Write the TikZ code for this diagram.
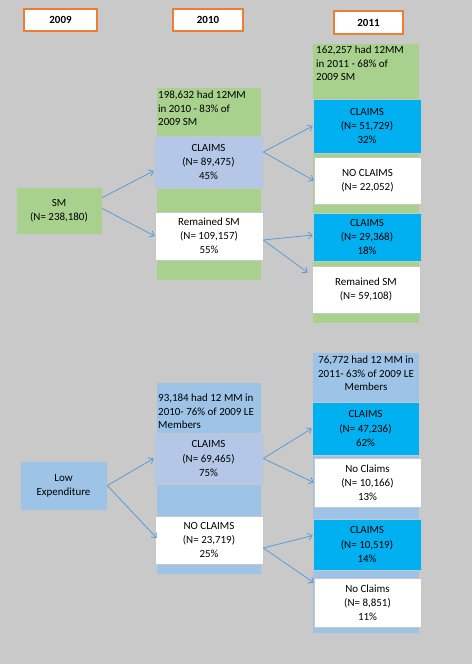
\documentclass[tikz,border=0pt]{standalone}
\usepackage{fontspec}
\setmainfont{Carlito}
\usepackage{xcolor}
\usetikzlibrary{arrows.meta}
\definecolor{bggray}{HTML}{C9C9C9}
\definecolor{smgreen}{HTML}{A9D18E}
\definecolor{leblue}{HTML}{9DC3E6}
\definecolor{claimblue}{HTML}{B4C7E7}
\definecolor{claimcyan}{HTML}{00B0F0}
\definecolor{hdrorange}{HTML}{ED7D31}
\definecolor{arrowblue}{HTML}{5B9BD5}

\begin{document}
\begin{tikzpicture}[
  x=1bp, y=-1bp,
  >={Straight Barb[length=4pt,width=7pt]},
  font=\fontsize{11}{13.5}\selectfont,
  year/.style={rectangle, draw=hdrorange, fill=white, line width=1.2pt, minimum width=70bp, minimum height=22bp, inner sep=0pt, font=\fontsize{11}{13.5}\selectfont\bfseries},
  box/.style={rectangle, draw=black!22, line width=0.6pt, minimum width=108bp, minimum height=48bp, inner sep=0pt, align=center, font=\fontsize{11}{14.2}\selectfont},
  note/.style={inner sep=0pt, align=left},
  flow/.style={->, draw=arrowblue, line width=0.8pt}
]
  \fill[bggray] (0,0) rectangle (472,664);
  \useasboundingbox (0,0) rectangle (472,664);

  \node[year, minimum width=73bp] (y09) at (60.5,20) {2009};
  \node[year] (y10) at (208,20) {2010};
  \node[year, minimum width=69bp, minimum height=23bp] (y11) at (368.5,22.5) {2011};

  % SM members
  \fill[smgreen] (157,88) rectangle (261,280);
  \fill[smgreen] (313,44) rectangle (419,323);
  \node[note, anchor=north west] (n10) at (158,91) {198,632 had 12MM\\in 2010 - 83\% of\\2009 SM};
  \node[note, anchor=north west] (n11) at (316,46) {162,257 had 12MM\\in 2011 - 68\% of\\2009 SM};

  \node[box, fill=smgreen, minimum width=86bp, minimum height=47bp] (sm) at (59,210.5) {SM\\(N= 238,180)};
  \node[box, fill=claimblue, minimum width=109bp, minimum height=52bp] (cl10) at (208.5,162) {CLAIMS\\(N= 89,475)\\45\%};
  \node[box, fill=white] (rm10) at (209,236) {Remained SM\\(N= 109,157)\\55\%};
  \node[box, fill=claimcyan, minimum height=54bp] (cl11a) at (367,126) {CLAIMS\\(N= 51,729)\\32\%};
  \node[box, fill=white, minimum width=107bp, minimum height=47bp] (nc11a) at (367.5,180.5) {NO CLAIMS\\(N= 22,052)};
  \node[box, fill=claimcyan] (cl11b) at (367,237) {CLAIMS\\(N= 29,368)\\18\%};
  \node[box, fill=white, minimum height=47bp] (rm11) at (366,289.5) {Remained SM\\(N= 59,108)};

  \draw[flow] ([yshift=13pt]sm.east) -- ([yshift=-9pt]cl10.west);
  \draw[flow] ([yshift=2pt]sm.east) -- (rm10.west);
  \draw[flow] ([yshift=10pt]cl10.east) -- (cl11a.west);
  \draw[flow] ([yshift=10pt]cl10.east) -- (nc11a.west);
  \draw[flow] ([yshift=-4pt]rm10.east) -- ([yshift=2pt]cl11b.west);
  \draw[flow] ([yshift=-4pt]rm10.east) -- ([xshift=-4pt,yshift=17pt]rm11.west);

  % low expenditure members
  \fill[leblue] (157,383) rectangle (261,574);
  \fill[leblue] (313,353) rectangle (419,633);
  \node[note, anchor=north west] (n10b) at (158,394) {93,184 had 12 MM in\\2010- 76\% of 2009 LE\\Members};
  \node[note, anchor=north, align=center] (n11b) at (366,356) {76,772 had 12 MM in\\2011- 63\% of 2009 LE\\Members};

  \node[box, fill=leblue, minimum width=87bp, minimum height=49bp] (le) at (63.5,485.5) {Low\\Expenditure};
  \node[box, fill=claimblue, minimum width=109bp, minimum height=51bp] (cl10b) at (208.5,458.5) {CLAIMS\\(N= 69,465)\\75\%};
  \node[box, fill=white] (nc10b) at (209,540) {NO CLAIMS\\(N= 23,719)\\25\%};
  \node[box, fill=claimcyan, minimum width=107bp, minimum height=53bp] (cl11c) at (365.5,428.5) {CLAIMS\\(N= 47,236)\\62\%};
  \node[box, fill=white, minimum width=107bp, minimum height=49bp] (nc11c) at (367.5,482.5) {No Claims\\(N= 10,166)\\13\%};
  \node[box, fill=claimcyan, minimum height=51bp] (cl11d) at (367,544.5) {CLAIMS\\(N= 10,519)\\14\%};
  \node[box, fill=white, minimum width=107bp, minimum height=49bp] (nc11d) at (367.5,602.5) {No Claims\\(N= 8,851)\\11\%};

  \draw[flow] (le.east) -- (cl10b.west);
  \draw[flow] (le.east) -- ([xshift=2pt,yshift=2pt]nc10b.west);
  \draw[flow] (cl10b.east) -- (cl11c.west);
  \draw[flow] (cl10b.east) -- (nc11c.west);
  \draw[flow] ([yshift=-8pt]nc10b.east) -- ([yshift=9pt]cl11d.west);
  \draw[flow] ([yshift=-8pt]nc10b.east) -- ([yshift=20pt]nc11d.west);
\end{tikzpicture}
\end{document}
